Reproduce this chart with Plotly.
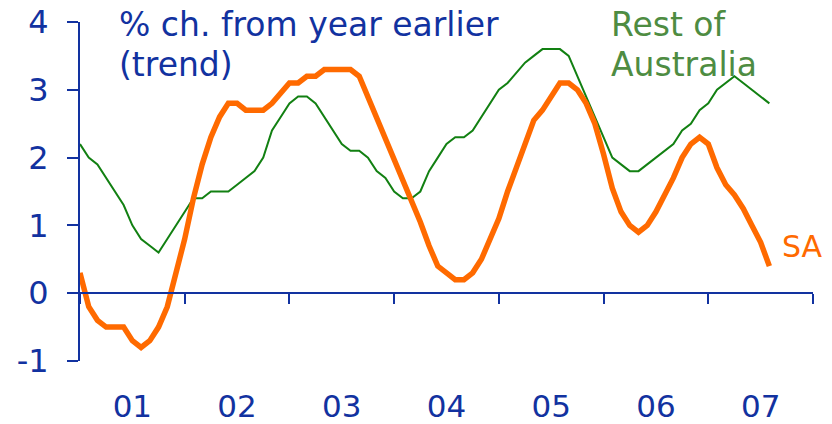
import plotly.graph_objects as go

# Monthly data, Jan 2001 onward (% change from year earlier, trend)
months_start_year = 2001
sa = [0.3, -0.2, -0.4, -0.5, -0.5, -0.5, -0.7, -0.8, -0.7, -0.5, -0.2, 0.3,
      0.8, 1.4, 1.9, 2.3, 2.6, 2.8, 2.8, 2.7, 2.7, 2.7, 2.8, 2.95,
      3.1, 3.1, 3.2, 3.2, 3.3, 3.3, 3.3, 3.3, 3.2, 2.9, 2.6, 2.3,
      2.0, 1.7, 1.35, 1.05, 0.7, 0.4, 0.3, 0.2, 0.2, 0.3, 0.5, 0.8,
      1.1, 1.5, 1.85, 2.2, 2.55, 2.7, 2.9, 3.1, 3.1, 3.0, 2.8, 2.5,
      2.05, 1.55, 1.2, 1.0, 0.9, 1.0, 1.2, 1.45, 1.7, 2.0, 2.2, 2.3,
      2.2, 1.85, 1.6, 1.45, 1.25, 1.0, 0.75, 0.4]
rest_of_australia = [2.2, 2.0, 1.9, 1.7, 1.5, 1.3, 1.0, 0.8, 0.7, 0.6, 0.8, 1.0,
                     1.2, 1.4, 1.4, 1.5, 1.5, 1.5, 1.6, 1.7, 1.8, 2.0, 2.4, 2.6,
                     2.8, 2.9, 2.9, 2.8, 2.6, 2.4, 2.2, 2.1, 2.1, 2.0, 1.8, 1.7,
                     1.5, 1.4, 1.4, 1.5, 1.8, 2.0, 2.2, 2.3, 2.3, 2.4, 2.6, 2.8,
                     3.0, 3.1, 3.25, 3.4, 3.5, 3.6, 3.6, 3.6, 3.5, 3.2, 2.9, 2.6,
                     2.3, 2.0, 1.9, 1.8, 1.8, 1.9, 2.0, 2.1, 2.2, 2.4, 2.5, 2.7,
                     2.8, 3.0, 3.1, 3.2, 3.1, 3.0, 2.9, 2.8]
year_labels = ["01", "02", "03", "04", "05", "06", "07"]
y_ticks = [-1, 0, 1, 2, 3, 4]
y_tick_labels = ["-1", "0", "1", "2", "3", "4"]

x = [months_start_year + i / 12 for i in range(len(sa))]
years = list(range(2001, 2009))
label_pos = [y + 0.5 for y in years[:-1]]

BLUE = "#1232a0"
GREEN_LINE = "#128012"
GREEN_TEXT = "#4e8c42"
ORANGE = "#ff6a00"
FONT = "DejaVu Sans"
FS = 32

fig = go.Figure()
fig.add_trace(go.Scatter(x=x, y=rest_of_australia, mode="lines",
                         line=dict(color=GREEN_LINE, width=2), xaxis="x", yaxis="y",
                         cliponaxis=False))
fig.add_trace(go.Scatter(x=x, y=sa, mode="lines",
                         line=dict(color=ORANGE, width=5.5), xaxis="x", yaxis="y",
                         cliponaxis=False))
# dummy trace to activate the tick-mark axis
fig.add_trace(go.Scatter(x=[2001], y=[None], xaxis="x2", yaxis="y",
                         mode="lines", hoverinfo="skip"))

# page body has an 8px margin, so the figure is 8px smaller than the window
fig.update_layout(
    width=824, height=416,
    margin=dict(l=72, r=19, t=14, b=63, autoexpand=False),
    paper_bgcolor="white", plot_bgcolor="white",
    showlegend=False,
    font=dict(family=FONT, color=BLUE, size=FS),
    xaxis=dict(range=[2001, 2008], tickmode="array", tickvals=label_pos,
               ticktext=year_labels, ticks="", showline=False, showgrid=False,
               zeroline=False, ticklabelstandoff=24, automargin=False,
               ticklabeloverflow="allow",
               tickfont=dict(family=FONT, size=31, color=BLUE)),
    xaxis2=dict(range=[2001, 2008], overlaying="x", anchor="free", position=0.2,
                side="bottom", tickmode="array", tickvals=years, showticklabels=False,
                ticks="outside", ticklen=10, tickwidth=2, tickcolor=BLUE,
                showline=True, linecolor=BLUE, linewidth=2, showgrid=False,
                zeroline=False, automargin=False),
    yaxis=dict(range=[-1, 4], tickmode="array", tickvals=y_ticks,
               ticktext=y_tick_labels,
               ticks="outside", ticklen=11, tickwidth=2, tickcolor=BLUE,
               showline=True, linecolor=BLUE, linewidth=2, showgrid=False,
               zeroline=False, ticklabelstandoff=12, automargin=False,
               ticklabeloverflow="allow",
               tickfont=dict(family=FONT, size=FS, color=BLUE)),
)

def px_to_x(px):
    return 2001 + (px - 80) / 104.7

def px_to_y(py):
    return (292 - py) / 67.6

annots = [
    ("% ch. from year earlier", 117, 24, BLUE, 33),
    ("(trend)", 117, 64, BLUE, 33),
    ("Rest of", 609, 24, GREEN_TEXT, 33),
    ("Australia", 609, 64, GREEN_TEXT, 33),
    ("SA", 780, 245, ORANGE, 30),
]
for text, px, py, col, fs in annots:
    fig.add_annotation(text=text, x=px_to_x(px), y=px_to_y(py), xref="x", yref="y",
                       xanchor="left", yanchor="middle", showarrow=False,
                       font=dict(family=FONT, size=fs, color=col))

fig.write_html("out.html")
